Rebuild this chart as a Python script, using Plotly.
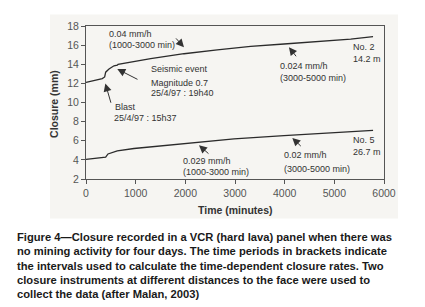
import plotly.graph_objects as go

# Data
time_no2 = [0, 328, 376, 396, 463, 564, 630, 646, 1302, 1973, 2643, 3315, 3986, 4656, 5329, 5780]
closure_no2 = [12.1, 12.5, 12.67, 13.17, 13.5, 13.84, 13.9, 14.0, 14.58, 15.1, 15.5, 15.86, 16.12, 16.36, 16.62, 16.88]

time_no5 = [0, 328, 396, 443, 630, 966, 1973, 2980, 3986, 4993, 5780]
closure_no5 = [4.05, 4.19, 4.29, 4.62, 4.95, 5.19, 5.73, 6.2, 6.53, 6.8, 7.08]

x_ticks = [0, 1000, 2000, 3000, 4000, 5000, 6000]
y_ticks = [2, 4, 6, 8, 10, 12, 14, 16, 18]

caption_lines = [
    "Figure 4\u2014Closure recorded in a VCR (hard lava) panel when there was",
    "no mining activity for four days. The time periods in brackets indicate",
    "the intervals used to calculate the time-dependent closure rates. Two",
    "closure instruments at different distances to the face were used to",
    "collect the data (after Malan, 2003)",
]

# text labels: (text, t, closure)
labels = [
    ("0.04 mm/h", 416, 17.2),
    ("(1000-3000 min)", 416, 16.02),
    ("Seismic event", 1268, 13.5),
    ("Magnitude 0.7", 1268, 12.0),
    ("25/4/97 : 19h40", 1268, 11.0),
    ("Blast", 543, 9.48),
    ("25/4/97 : 15h37", 530, 8.41),
    ("0.024 mm/h", 3872, 13.84),
    ("(3000-5000 min)", 3872, 12.57),
    ("No. 2", 5329, 15.79),
    ("14.2 m", 5329, 14.5),
    ("No. 5", 5329, 6.06),
    ("26.7 m", 5329, 4.79),
    ("0.029 mm/h", 1906, 3.84),
    ("(1000-3000 min)", 1906, 2.78),
    ("0.02 mm/h", 3940, 4.52),
    ("(3000-5000 min)", 3940, 3.04),
]

# arrows: (head_t, head_y, tail_t, tail_y)
arrows = [
    (1973, 15.79, 1785, 16.86),
    (630, 13.5, 1067, 12.34),
    (389, 12.0, 510, 9.82),
    (4086, 15.79, 4254, 14.68),
    (2275, 5.53, 2496, 4.52),
    (4154, 6.3, 4355, 5.29),
]

LINE = "#2b2b2b"
BG = "#f6f5f2"

fig = go.Figure()
fig.add_trace(go.Scatter(x=time_no2, y=closure_no2, mode="lines",
                         line=dict(color=LINE, width=1.3), hoverinfo="skip"))
fig.add_trace(go.Scatter(x=time_no5, y=closure_no5, mode="lines",
                         line=dict(color=LINE, width=1.3), hoverinfo="skip"))

annotations = []
for txt, t, c in labels:
    annotations.append(dict(text=txt, x=t, y=c, xref="x", yref="y",
                            xanchor="left", yanchor="middle", showarrow=False,
                            font=dict(family="Arial", size=9, color="#333")))
for ht, hy, tt, ty in arrows:
    annotations.append(dict(text="", x=ht, y=hy, ax=tt, ay=ty,
                            xref="x", yref="y", axref="x", ayref="y",
                            showarrow=True, arrowhead=2, arrowsize=1.6,
                            arrowwidth=1, arrowcolor="#333"))

# axis titles
annotations.append(dict(text="<b>Time (minutes)</b>", x=(227 - 78) / 298, y=(171 - 203) / 159,
                        xref="paper", yref="paper", showarrow=False,
                        xanchor="center", yanchor="middle",
                        font=dict(family="Arial", size=10.5, color="#333")))
annotations.append(dict(text="<b>Closure (mm)</b>", x=(46 - 78) / 298, y=(171 - 93) / 159,
                        xref="paper", yref="paper", showarrow=False, textangle=-90,
                        xanchor="center", yanchor="middle",
                        font=dict(family="Arial", size=10.5, color="#333")))

# caption
cap_y = [231, 246, 261, 275.5, 290]
for line, ypx in zip(caption_lines, cap_y):
    annotations.append(dict(text="<b>" + line + "</b>", x=(7 - 78) / 298, y=(171 - ypx) / 159,
                            xref="paper", yref="paper", showarrow=False,
                            xanchor="left", yanchor="middle",
                            font=dict(family="Arial", size=11.2, color="#1a1a1a")))

fig.update_layout(
    width=425, height=307,
    margin=dict(l=78, r=49, t=12, b=136, pad=0),
    paper_bgcolor="white",
    plot_bgcolor="rgba(0,0,0,0)",
    showlegend=False,
    annotations=annotations,
    shapes=[dict(type="rect", xref="paper", yref="paper",
                 x0=(42 - 78) / 298, x1=(390 - 78) / 298,
                 y0=(171 - 212) / 159, y1=(171 - 0) / 159,
                 fillcolor=BG, line=dict(width=0), layer="below")],
)
fig.update_xaxes(range=[0, 6000], tickvals=x_ticks, ticks="outside", ticklen=4,
                 tickcolor="#555", showline=True, linecolor="#555", linewidth=1,
                 mirror=True, showgrid=False, zeroline=False,
                 tickfont=dict(family="Arial", size=10.5, color="#555"))
fig.update_yaxes(range=[2, 18], tickvals=y_ticks, ticks="outside", ticklen=4,
                 tickcolor="#555", showline=True, linecolor="#555", linewidth=1,
                 mirror=True, showgrid=False, zeroline=False,
                 tickfont=dict(family="Arial", size=10.5, color="#555"))

fig.write_html("out.html")
